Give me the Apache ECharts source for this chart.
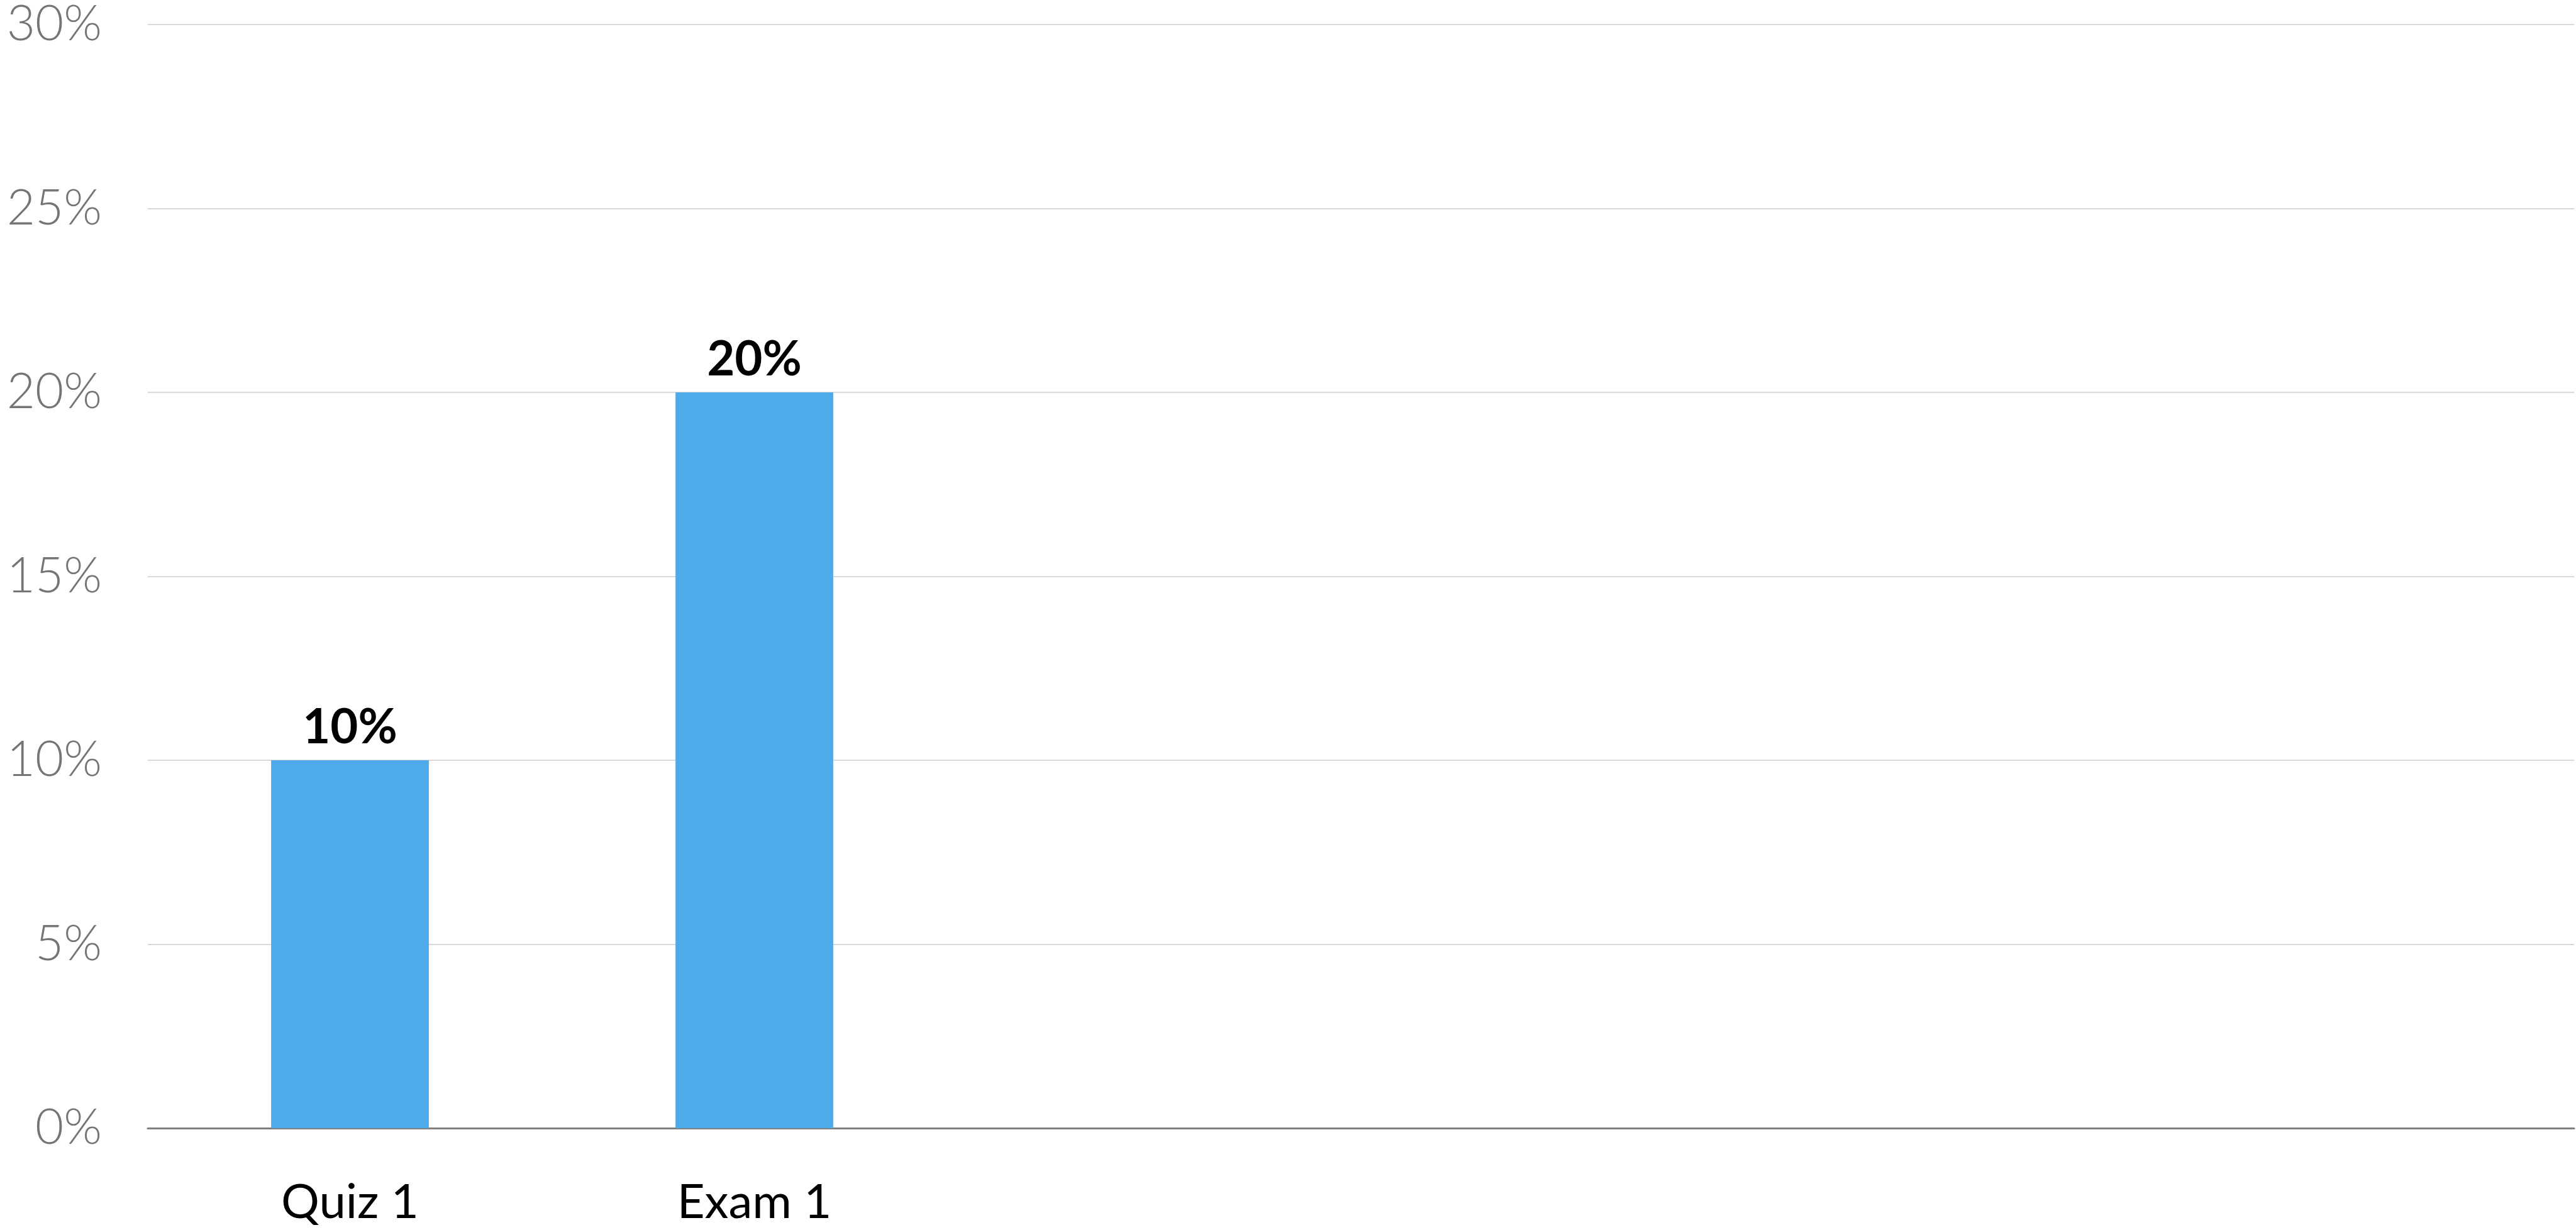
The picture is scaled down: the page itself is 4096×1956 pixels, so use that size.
<!DOCTYPE html>
<html>
<head>
<meta charset="utf-8">
<style>html,body{margin:0;padding:0;background:#fff;}#c{width:4096px;height:1956px;}</style>
<script src="https://cdn.jsdelivr.net/npm/echarts@6/dist/echarts.min.js"></script>
</head>
<body>
<div id="c"></div>
<script>
const categories = ['Quiz 1', 'Exam 1', '', '', '', ''];
const values = [0.10, 0.20, null, null, null, null];
const yTicks = [0, 0.05, 0.10, 0.15, 0.20, 0.25, 0.30];

const chart = echarts.init(document.getElementById('c'), null, {renderer: 'canvas'});
chart.setOption({
  animation: false,
  backgroundColor: '#ffffff',
  grid: {left: 235, right: 3, top: 34, bottom: 162, containLabel: false},
  xAxis: {
    type: 'category',
    data: categories,
    axisLine: {show: true, lineStyle: {color: '#808080', width: 3}},
    axisTick: {show: false},
    axisLabel: {color: '#000000', fontFamily: 'Lato', fontSize: 76, margin: 80, interval: 0}
  },
  yAxis: {
    type: 'value',
    min: yTicks[0],
    max: yTicks[yTicks.length - 1],
    interval: 0.05,
    axisLine: {show: false},
    axisTick: {show: false},
    splitLine: {show: true, lineStyle: {color: '#d9d9d9', width: 2}},
    axisLabel: {
      color: '#757575', fontFamily: 'Lato', fontWeight: 300, fontSize: 78, margin: 73,
      formatter: v => Math.round(v * 100) + '%'
    }
  },
  series: [{
    type: 'bar',
    data: values,
    barWidth: '39%',
    itemStyle: {color: '#4EAAE8'},
    label: {
      show: true, position: 'top', distance: 14,
      color: '#000000', fontFamily: 'Lato', fontWeight: 'bold', fontSize: 76,
      formatter: p => Math.round(p.value * 100) + '%'
    }
  }]
});
</script>
</body>
</html>
